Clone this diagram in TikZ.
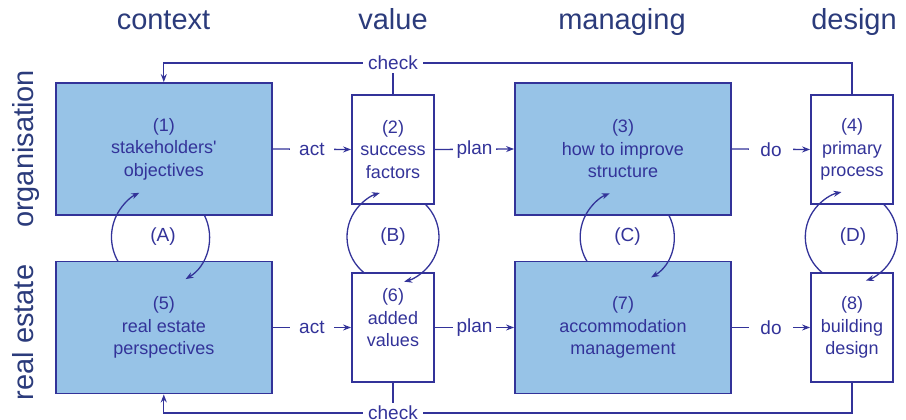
\documentclass[tikz,border=0pt]{standalone}
\usepackage{fontspec}
\setmainfont{Liberation Sans}
\newfontfamily\lsans{Liberation Sans}
\usetikzlibrary{arrows.meta}
\definecolor{lnblue}{HTML}{333399}
\definecolor{hdblue}{HTML}{2B3B7B}
\definecolor{boxfill}{HTML}{97C3E7}
\begin{document}
\begin{tikzpicture}[x=1pt,y=1pt,
  hdr/.style={text=hdblue, font=\lsans\fontsize{29}{34}\selectfont, inner sep=0pt},
  bigbox/.style={draw=lnblue, line width=1.8pt, fill=boxfill, minimum width=216pt, minimum height=132pt, inner sep=0pt, text=lnblue, align=center, font=\lsans\fontsize{18}{22.5}\selectfont},
  smallbox/.style={bigbox, fill=white, minimum width=82pt, minimum height=109pt},
  boxtext/.style={text=lnblue, align=center, inner sep=0pt, font=\lsans\fontsize{18}{22.5}\selectfont},
  conn/.style={draw=lnblue, line width=1.3pt, -{Stealth[length=8pt,width=6pt]}},
  plain/.style={draw=lnblue, line width=1.3pt},
  lbl/.style={fill=white, text=lnblue, font=\lsans\fontsize{19}{22}\selectfont, inner xsep=9pt, inner ysep=2pt},
  looplbl/.style={text=lnblue, font=\lsans\fontsize{19}{22}\selectfont, inner sep=0pt}
]
\useasboundingbox (0,0) rectangle (906,420);

% headers
\node[hdr, anchor=base] (hctx) at (163.5,390) {context};
\node[hdr, anchor=base] (hval) at (393,390) {value};
\node[hdr, anchor=base] (hman) at (622,390) {managing};
\node[hdr, anchor=base] (hdes) at (854,390) {design};
\node[hdr, rotate=90, anchor=base] (rorg) at (33,271) {organisation};
\node[hdr, rotate=90, anchor=base] (rre) at (33,87.5) {real estate};

% boxes
\node[bigbox] (b1) at (163.8,271) {(1)\\stakeholders'\\objectives};
\node[smallbox] (b2) at (393,270.5) {(2)\\success\\factors};
\node[bigbox] (b3) at (623,271) {(3)\\how to improve\\structure};
\node[smallbox] (b4) at (852,270.5) {(4)\\primary\\process};
\node[bigbox] (b5) at (163.8,92.5) {(5)\\real estate\\perspectives};
\node[smallbox] (b6) at (393,92.5) {};
\node[boxtext] (t6) at ([yshift=9.5pt]b6.center) {(6)\\added\\values};
\node[bigbox] (b7) at (623,92.5) {(7)\\accommodation\\management};
\node[smallbox] (b8) at (852,92.5) {(8)\\building\\design};

% horizontal connectors
\draw[conn] (b1.east) -- node[lbl] (lact1) {act} (b2.west);
\draw[conn] (b2.east) -- node[lbl, inner xsep=4pt] (lplan1) {plan} (b3.west);
\draw[conn] (b3.east) -- node[lbl, inner xsep=11pt] (ldo1) {do} (b4.west);
\draw[conn] (b5.east) -- node[lbl] (lact2) {act} (b6.west);
\draw[conn] (b6.east) -- node[lbl, inner xsep=4pt] (lplan2) {plan} (b7.west);
\draw[conn] (b7.east) -- node[lbl, inner xsep=11pt] (ldo2) {do} (b8.west);

% check loops
\coordinate (ctop) at (393,357);
\coordinate (cbot) at (393,7);
\draw[conn] (b4.north) -- (b4.north |- ctop) -- (b1.north |- ctop) -- (b1.north);
\draw[plain] (b2.north) -- (ctop);
\node[lbl, inner xsep=5pt, inner ysep=3pt] (chk1) at (ctop) {check};
\draw[conn] (b8.south) -- (b8.south |- cbot) -- (b5.south |- cbot) -- (b5.south);
\draw[plain] (b6.south) -- (cbot);
\node[lbl, inner xsep=5pt, inner ysep=3pt] (chk2) at (cbot) {check};

% circular loops
\coordinate (cA) at (160.5,183);
\coordinate (cB) at (393,183);
\coordinate (cC) at (627.2,183);
\coordinate (cD) at (851.3,183);
\draw[conn] ([shift={(210:49pt)}]cA) arc[start angle=210, end angle=115.5, radius=49pt];
\draw[conn] ([shift={(26.7:49pt)}]cA) arc[start angle=26.7, end angle=-59.3, radius=49pt];
\draw[conn] ([shift={(231.5:46pt)}]cB) arc[start angle=231.5, end angle=106.5, radius=46pt];
\draw[conn] ([shift={(45.8:46pt)}]cB) arc[start angle=45.8, end angle=-76, radius=46pt];
\draw[conn] ([shift={(211.4:47pt)}]cC) arc[start angle=211.4, end angle=111.8, radius=47pt];
\draw[conn] ([shift={(27.9:47pt)}]cC) arc[start angle=27.9, end angle=-59.4, radius=47pt];
\draw[conn] ([shift={(231.5:46pt)}]cD) arc[start angle=231.5, end angle=102.3, radius=46pt];
\draw[conn] ([shift={(45.8:46pt)}]cD) arc[start angle=45.8, end angle=-71.5, radius=46pt];
\node[looplbl] (lA) at (163,183) {(A)};
\node[looplbl] (lB) at (393,183) {(B)};
\node[looplbl] (lC) at (627.5,183) {(C)};
\node[looplbl] (lD) at (853,183) {(D)};
\end{tikzpicture}
\end{document}
